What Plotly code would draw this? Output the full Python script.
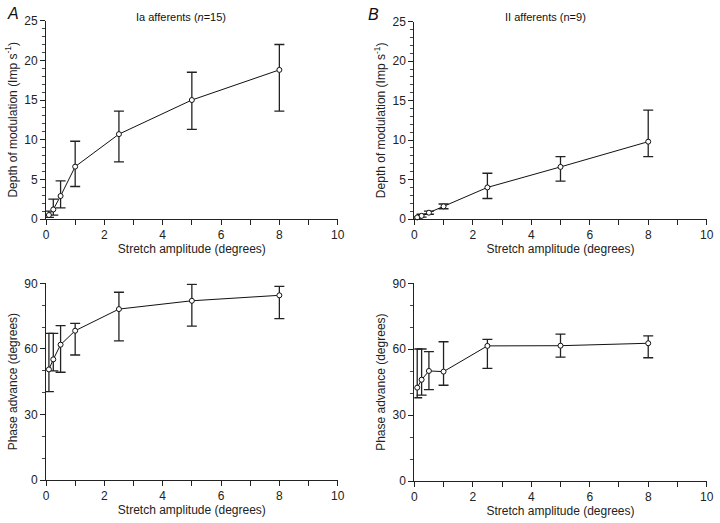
import plotly.graph_objects as go

# ---- data ----
amp = [0.1, 0.25, 0.5, 1, 2.5, 5, 8]

ia_depth = [0.5, 1.2, 2.9, 6.6, 10.7, 15.0, 18.8]
ia_depth_hi = [1.0, 2.5, 4.8, 9.8, 13.6, 18.5, 22.0]
ia_depth_lo = [0.2, 0.5, 1.4, 4.1, 7.2, 11.3, 13.6]

ii_depth = [0.2, 0.4, 0.8, 1.6, 4.0, 6.6, 9.8]
ii_depth_hi = [0.3, 0.6, 1.0, 1.9, 5.8, 7.9, 13.8]
ii_depth_lo = [0.1, 0.25, 0.6, 1.3, 2.6, 4.8, 7.9]

ia_phase = [50.6, 55.2, 61.9, 68.3, 78.2, 82.0, 84.5]
ia_phase_hi = [67.1, 67.1, 70.6, 71.7, 85.9, 89.5, 88.6]
ia_phase_lo = [40.4, 49.9, 49.3, 57.2, 63.7, 70.4, 73.8]

ii_phase = [42.5, 46.1, 50.1, 49.8, 61.5, 61.6, 62.7]
ii_phase_hi = [60.1, 60.1, 58.9, 63.4, 64.5, 66.9, 66.1]
ii_phase_lo = [37.9, 39.1, 41.6, 43.6, 51.3, 56.4, 56.1]

W, H = 720, 523
FONT = "Liberation Sans, Arial, sans-serif"

def px_x(p):
    return p / W

def px_y(p):
    return 1 - p / H

panels = [
    ("x", "y", (46, 337.7), (20.7, 219), ia_depth, ia_depth_hi, ia_depth_lo, 25, 5, 1,
     "Depth of modulation (Imp s<sup>-1</sup>)"),
    ("x2", "y2", (414.3, 706.7), (21.7, 219), ii_depth, ii_depth_hi, ii_depth_lo, 25, 5, 1,
     "Depth of modulation (Imp s<sup>-1</sup>)"),
    ("x3", "y3", (46, 337.7), (283.3, 480), ia_phase, ia_phase_hi, ia_phase_lo, 90, 30, 10,
     "Phase advance (degrees)"),
    ("x4", "y4", (414.3, 706.7), (283.3, 481), ii_phase, ii_phase_hi, ii_phase_lo, 90, 30, 10,
     "Phase advance (degrees)"),
]

fig = go.Figure()
layout = dict(
    width=W, height=H,
    margin=dict(l=0, r=0, t=0, b=0, autoexpand=False),
    paper_bgcolor="white", plot_bgcolor="white",
    showlegend=False,
    font=dict(family=FONT, size=11, color="#222"),
)

for i, (xa, ya, xd, yd, yv, hi, lo, ymax, ydt, ymin_dt, ytitle) in enumerate(panels):
    plus = [h - v for h, v in zip(hi, yv)]
    minus = [v - l for v, l in zip(yv, lo)]
    fig.add_trace(go.Scatter(
        x=amp, y=yv, xaxis=xa, yaxis=ya,
        mode="lines+markers",
        line=dict(color="#111", width=1),
        marker=dict(symbol="circle", size=5, color="white", line=dict(color="#111", width=1)),
        error_y=dict(type="data", symmetric=False, array=plus, arrayminus=minus,
                     color="#222", thickness=1.3, width=5),
        cliponaxis=False,
    ))
    xkey = "xaxis" if xa == "x" else "xaxis" + xa[1:]
    ykey = "yaxis" if ya == "y" else "yaxis" + ya[1:]
    layout[xkey] = dict(
        domain=[px_x(xd[0]), px_x(xd[1])], anchor=ya, range=[0, 10], automargin=False,
        tickmode="linear", tick0=0, dtick=2, ticks="outside", ticklen=5, tickwidth=1,
        tickcolor="#222",
        minor=dict(tickmode="linear", tick0=0, dtick=1, ticks="outside", ticklen=5,
                   tickwidth=1, tickcolor="#222"),
        showline=True, linecolor="#222", linewidth=1, showgrid=False, zeroline=False,
        tickfont=dict(size=12, color="#222"),
        title=dict(text="Stretch amplitude (degrees)", font=dict(size=12, color="#222"),
                   standoff=2),
    )
    layout[ykey] = dict(
        domain=[px_y(yd[1]), px_y(yd[0])], anchor=xa, range=[0, ymax], automargin=False,
        tickmode="linear", tick0=0, dtick=ydt, ticks="outside", ticklen=5, tickwidth=1,
        tickcolor="#222",
        minor=dict(tickmode="linear", tick0=0, dtick=ymin_dt, ticks="outside", ticklen=3,
                   tickwidth=1, tickcolor="#444"),
        showline=True, linecolor="#222", linewidth=1, showgrid=False, zeroline=False,
        tickfont=dict(size=12, color="#222"),
        title=dict(text=ytitle, font=dict(size=12, color="#222"), standoff=4),
    )

def ann(text, x, y, size):
    return dict(text=text, x=px_x(x), y=px_y(y), xref="paper", yref="paper",
                xanchor="center", yanchor="middle", showarrow=False,
                font=dict(size=size, color="#111"))

layout["annotations"] = [
    ann("<i>A</i>", 13, 14, 16),
    ann("<i>B</i>", 373, 15, 16),
    ann("Ia afferents (<i>n</i>=15)", 181, 17, 11),
    ann("II afferents (n=9)", 545, 17, 11),
]
fig.update_layout(**layout)

fig.write_html("out.html", config={"displayModeBar": False},
               post_script="document.body.style.margin='0px';")
